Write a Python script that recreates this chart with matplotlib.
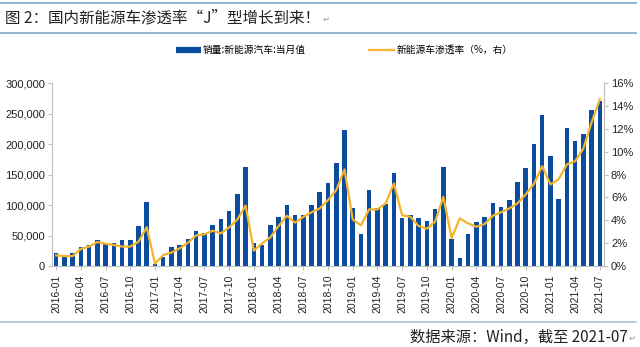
import matplotlib
matplotlib.use("Agg")
import matplotlib.pyplot as plt
from matplotlib.lines import Line2D
from matplotlib.ticker import FuncFormatter, MultipleLocator

plt.rcParams['font.family'] = ['Noto Sans CJK SC', 'DejaVu Sans']

months = [f"{y}-{m:02d}" for y in range(2016, 2022) for m in range(1, 13)][:67]

sales = [21700, 14000, 22000, 31000, 34000, 43000, 37000, 37500, 43000, 43000, 65000, 105000,
         4000, 15000, 31000, 34000, 45000, 58000, 55000, 67000, 77000, 90000, 118000, 162000,
         38000, 34000, 68000, 81000, 100500, 83000, 83000, 100000, 121000, 137000, 169000, 223000,
         95000, 52000, 125000, 96000, 102000, 152000, 79000, 84000, 79000, 74500, 94000, 162000,
         45000, 13000, 52000, 72000, 81000, 104000, 97000, 109000, 138000, 161000, 201000, 248000,
         180000, 110000, 226000, 206000, 217000, 256000, 271000]

penetration = [0.93, 0.87, 0.87, 1.49, 1.7, 2.1, 1.95, 1.84, 1.7, 1.7, 2.13, 3.4,
               0.2, 0.96, 1.17, 1.55, 2.04, 2.68, 2.77, 3.09, 2.86, 3.38, 4.08, 5.3,
               1.34, 1.98, 2.5, 3.5, 4.4, 3.8, 4.3, 4.7, 5.04, 5.77, 6.65, 8.45,
               4.08, 3.56, 4.96, 4.96, 5.48, 7.23, 4.43, 4.31, 3.5, 3.27, 3.88, 6.06,
               2.45, 4.17, 3.73, 3.44, 3.67, 4.4, 4.7, 5.04, 5.48, 6.27, 7.2, 8.75,
               7.14, 7.6, 8.9, 9.18, 10.3, 12.6, 14.6]

bar_label = "销量:新能源汽车:当月值"
line_label = "新能源车渗透率（%，右）"
title = "图 2：国内新能源车渗透率“J”型增长到来！"
source = "数据来源：Wind，截至 2021-07"

W, H = 640, 347
fig = plt.figure(figsize=(W / 100, H / 100), dpi=100)

BLUE = "#0b4c9e"
GOLD = "#f5b329"
GREY = "#bfbfbf"
RULE = "#7aa7cc"

# header/footer rules
for yy, col in [(3.3, RULE), (32.7, RULE), (321.7, "#a9c4da")]:
    fig.add_artist(Line2D([0, 636 / W], [1 - yy / H, 1 - yy / H], color=col, lw=1.2,
                          transform=fig.transFigure))

t = fig.text(5 / W, 1 - 18 / H, title, fontsize=11.2, va="center", ha="left", color="#222222")
fig.canvas.draw()
bb = t.get_window_extent(fig.canvas.get_renderer())
fig.text(bb.x1 / W + 3 / W, 1 - 19 / H, "↵", fontsize=6, va="center", ha="left",
         color="#999999", family=['DejaVu Sans'])
fig.text(628 / W, 1 - 337 / H, source, fontsize=11, va="center", ha="right", color="#222222")
fig.text(629 / W, 1 - 338 / H, "↵", fontsize=6, va="center", ha="left", color="#999999",
         family=['DejaVu Sans'])

ax = fig.add_axes([52 / W, 1 - 266 / H, (604 - 52) / W, (266 - 83.3) / H])
x = list(range(len(months)))
ax.bar(x, sales, width=0.55, color=BLUE, zorder=2)
ax.set_xlim(-0.5, len(months) - 0.5)
ax.set_ylim(0, 300000)
ax.yaxis.set_major_locator(MultipleLocator(50000))
ax.yaxis.set_major_formatter(FuncFormatter(lambda v, p: f"{int(v):,}"))
ax.set_xticks(x[::3])
ax.set_xticklabels(months[::3], rotation=90, fontsize=7.5, family=['Liberation Sans'],
                   color="#222222")
ax.spines["top"].set_visible(False)
for s in ["left", "right", "bottom"]:
    ax.spines[s].set_color(GREY)
    ax.spines[s].set_linewidth(0.8)
ax.tick_params(axis="y", labelsize=8, colors="#222222", length=3, color=GREY, pad=2)
ax.tick_params(axis="x", length=3, color=GREY, pad=3)
for lbl in ax.get_yticklabels():
    lbl.set_family(['Liberation Sans'])

ax2 = ax.twinx()
ax2.plot(x, penetration, color=GOLD, lw=1.6, zorder=3)
ax2.set_ylim(0, 16)
ax2.yaxis.set_major_locator(MultipleLocator(2))
ax2.yaxis.set_major_formatter(FuncFormatter(lambda v, p: f"{int(v)}%"))
ax2.tick_params(axis="y", labelsize=8, colors="#222222", length=3, color=GREY, pad=2)
for lbl in ax2.get_yticklabels():
    lbl.set_family(['Liberation Sans'])
for s in ["top", "left", "bottom"]:
    ax2.spines[s].set_visible(False)
ax2.spines["right"].set_color(GREY)
ax2.spines["right"].set_linewidth(0.8)

handles = [Line2D([0], [0], color=BLUE, lw=4.5, solid_capstyle="butt"),
           Line2D([0], [0], color=GOLD, lw=1.6)]
fig.legend(handles, [bar_label, line_label], loc="center", ncol=2,
           bbox_to_anchor=(344 / W, 1 - 50 / H), frameon=False, fontsize=7,
           handlelength=2.6, handletextpad=0.2, columnspacing=6.5)

fig.savefig("out.png", dpi=100)
